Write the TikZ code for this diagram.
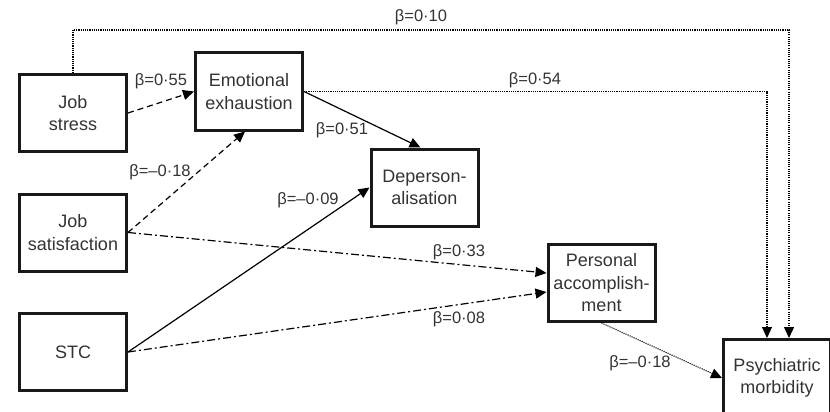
\documentclass[tikz,border=0pt]{standalone}
\usepackage{fontspec}
\setmainfont{Liberation Sans}
\usetikzlibrary{arrows.meta}
\tikzset{>={Triangle[length=11pt,width=10pt]}}

\begin{document}
\begin{tikzpicture}[x=1pt,y=-1pt,
    box/.style={draw=black!90,line width=3pt,minimum width=107pt,minimum height=77pt,
      inner sep=0pt,align=center,text=black!80,font=\fontsize{18}{22.5}\selectfont},
    beta/.style={text=black!80,font=\fontsize{16.5}{18}\selectfont,inner sep=0pt},
    dashline/.style={->,line width=1.2pt,dash pattern=on 6pt off 4pt},
    dashdot/.style={->,line width=1.2pt,dash pattern=on 8pt off 3pt on 2pt off 3pt},
    dotline/.style={->,line width=1.1pt,dash pattern=on 1.1pt off 1.1pt},
    solidline/.style={->,line width=1.2pt}]
    \useasboundingbox (0,0) rectangle (830,412);

    % predictors
    \node[box] (jobstress) at (73,113) {Job\\stress};
    \node[box] (jobsat) at (73,232.5) {Job\\satisfaction};
    \node[box] (stc) at (73,352) {STC};
    % burnout
    \node[box] (emoexh) at (249,91.5) {Emotional\\exhaustion};
    \node[box] (deperson) at (424.5,187.5) {Deperson-\\alisation};
    \node[box] (persacc) at (601.5,283) {Personal\\accomplish-\\ment};
    % outcome
    \node[box] (psychmorb) at (777,378) {Psychiatric\\morbidity};

    \coordinate (toprow) at (73,30);

    \draw[dashline] (jobstress.east) -- (emoexh.west);
    \draw[dashline] (jobsat.east) -- ([xshift=-4pt]emoexh.south);
    \draw[solidline] (emoexh.east) -- ([xshift=-4pt]deperson.north);
    \draw[solidline] (stc.east) -- (deperson.west);
    \draw[dashdot] (jobsat.east) -- ([yshift=10pt]persacc.west);
    \draw[dashdot] (stc.east) -- ([yshift=-9pt]persacc.west);
    \draw[dotline] (persacc.south) -- (psychmorb.west);
    \draw[dotline] (emoexh.east) -| ([xshift=-10pt]psychmorb.north);
    \draw[dotline] (jobstress.north) -- (toprow) -| ([xshift=12pt]psychmorb.north);

    % path coefficients
    \node[beta] (b1) at (421,17) {β=0·10};
    \node[beta] (b2) at (535,80) {β=0·54};
    \node[beta] (b3) at (161,81) {β=0·55};
    \node[beta] (b4) at (342,130) {β=0·51};
    \node[beta] (b5) at (160,172) {β=–0·18};
    \node[beta] (b6) at (308,200) {β=–0·09};
    \node[beta] (b7) at (459,252) {β=0·33};
    \node[beta] (b8) at (459,319) {β=0·08};
    \node[beta] (b9) at (640,363) {β=–0·18};
\end{tikzpicture}
\end{document}
